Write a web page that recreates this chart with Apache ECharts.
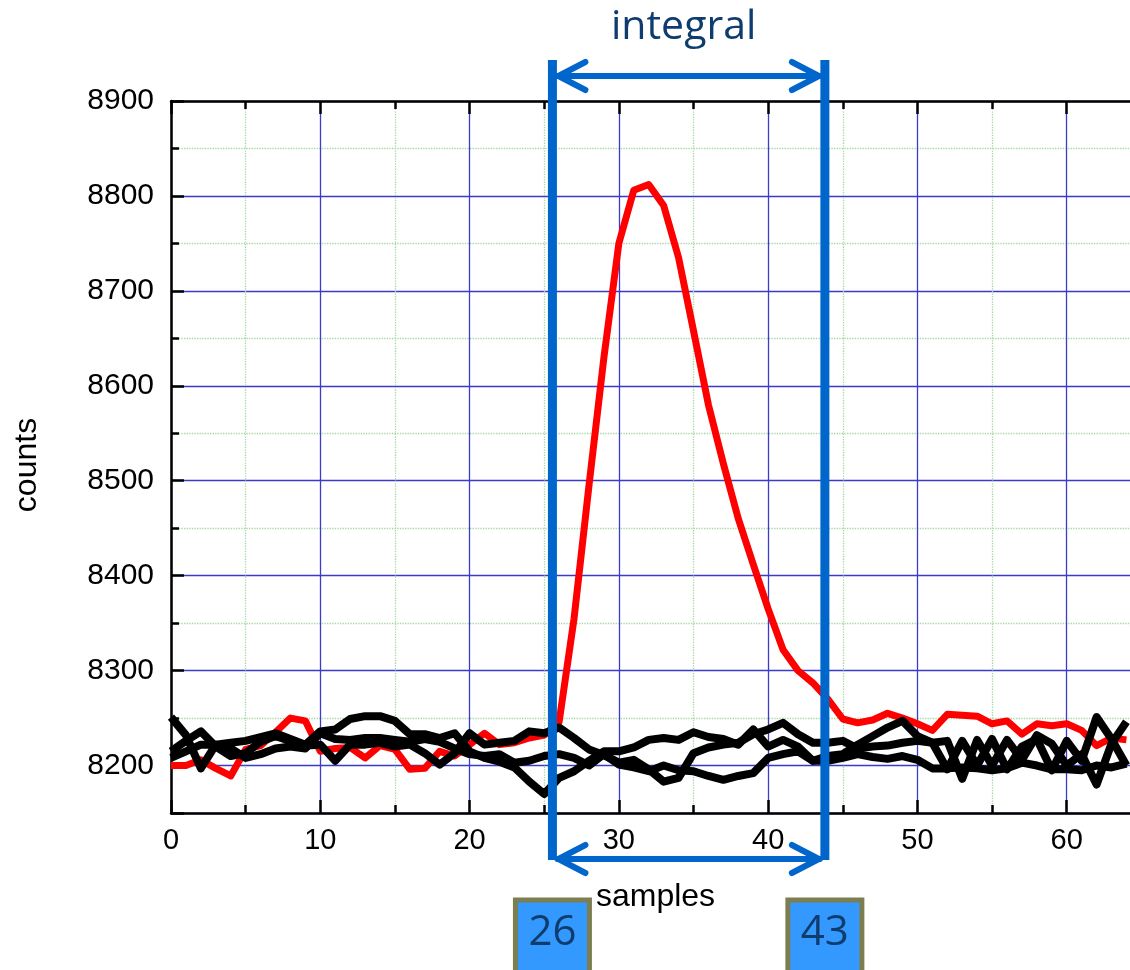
<!DOCTYPE html>
<html>
<head>
<meta charset="utf-8">
<script src="https://cdn.jsdelivr.net/npm/echarts@6/dist/echarts.min.js"></script>
<style>
html,body{margin:0;padding:0;background:#ffffff;}
#chart{width:1130px;height:970px;}
</style>
</head>
<body>
<div id="chart"></div>
<script>
// ---- data ----
const sampleIdx = [0,1,2,3,4,5,6,7,8,9,10,11,12,13,14,15,16,17,18,19,20,21,22,23,24,25,26,27,28,29,30,31,32,33,34,35,36,37,38,39,40,41,42,43,44,45,46,47,48,49,50,51,52,53,54,55,56,57,58,59,60,61,62,63,64];
const redCounts = [8200,8200,8206,8197,8189,8217,8221,8235,8250,8247,
                   8215,8218,8219,8208,8221,8217,8196,8197,8215,8210,
                   8222,8234,8222,8224,8229,8232,8246,8355,8495,8630,
                   8750,8806,8812,8790,8735,8658,8580,8518,8460,8412,
                   8365,8322,8300,8287,8270,8249,8245,8248,8255,8250,
                   8244,8237,8254,8253,8252,8244,8247,8233,8244,8242,
                   8244,8237,8221,8229,8227];
const blackCountsA = [8251,8232,8197,8222,8224,8226,8230,8234,8228,8222,
                      8236,8238,8249,8252,8252,8247,8233,8233,8229,8234,
                      8215,8208,8204,8198,8183,8170,8187,8194,8205,8215,
                      8215,8219,8227,8229,8227,8235,8230,8228,8222,8238,
                      8220,8227,8220,8205,8210,8212,8222,8231,8240,8247,
                      8231,8224,8196,8226,8200,8228,8196,8220,8228,8195,
                      8226,8205,8251,8228,8200];
const blackCountsB = [8215,8226,8236,8220,8210,8213,8225,8231,8226,8221,
                      8222,8205,8222,8222,8224,8220,8222,8213,8201,8213,
                      8234,8222,8224,8226,8236,8234,8240,8229,8217,8211,
                      8203,8206,8196,8183,8187,8213,8219,8222,8224,8233,
                      8238,8245,8233,8224,8224,8226,8218,8220,8221,8224,
                      8226,8224,8226,8186,8227,8200,8227,8206,8232,8223,
                      8200,8212,8180,8223,8246];
const blackCountsC = [8208,8215,8222,8222,8218,8208,8212,8218,8220,8218,
                      8234,8228,8227,8229,8229,8227,8225,8228,8225,8218,
                      8212,8210,8212,8203,8205,8210,8212,8208,8200,8212,
                      8201,8198,8194,8200,8195,8194,8189,8185,8189,8192,
                      8208,8212,8215,8205,8205,8208,8212,8209,8207,8210,
                      8206,8197,8197,8198,8197,8195,8197,8203,8200,8196,
                      8196,8195,8200,8198,8202];
const xTickLabels = [0,10,20,30,40,50,60];
const yTickLabels = [8200,8300,8400,8500,8600,8700,8800,8900];
const windowLabels = ['26','43'];
const windowEdges = [25.55, 43.8];   // where the blue bracket bars sit on the samples axis
const titleText = 'integral';

// ---- styles ----
const AXIS_BLACK = '#000000';
const GRID_BLUE = '#3a3acb';
const GRID_GREEN = '#a3d8a3';
const BRACKET_BLUE = '#0066cc';
const NAVY = '#0f3c6e';
const BOX_FILL = '#3399ff';
const BOX_EDGE = '#7d7d52';

const axisLineStyle = {color: AXIS_BLACK, width: 2.5};
const chart = echarts.init(document.getElementById('chart'), null, {renderer: 'canvas'});

const pairs = arr => sampleIdx.map((x, i) => [x, arr[i]]);
const blackLine = (name, arr) => ({
  name, type: 'line', xAxisIndex: 0, yAxisIndex: 0, data: pairs(arr),
  symbol: 'none', showSymbol: false, z: 3,
  lineStyle: {color: '#000000', width: 8, join: 'round'}
});

chart.setOption({
  animation: false,
  backgroundColor: '#ffffff',
  grid: {left: 171, top: 101, width: 1045, height: 712, containLabel: false, outerBoundsMode: 'none'},
  xAxis: [
    {
      type: 'value', position: 'bottom', min: 0, max: 70, interval: 10,
      axisLine: {show: true, onZero: false, lineStyle: axisLineStyle},
      axisTick: {show: true, inside: true, length: 13, lineStyle: axisLineStyle},
      minorTick: {show: true, splitNumber: 2, length: 8, lineStyle: axisLineStyle},
      splitLine: {show: true, lineStyle: {color: GRID_BLUE, width: 1.3}},
      minorSplitLine: {show: true, lineStyle: {color: GRID_GREEN, width: 1.3, type: 'dotted'}},
      axisLabel: {show: true, margin: 13, fontSize: 29, color: '#000', fontFamily: 'Liberation Sans',
                  formatter: v => xTickLabels.includes(v) ? String(v) : ''},
      name: 'samples', nameLocation: 'middle', nameGap: 68,
      nameTextStyle: {fontSize: 32, color: '#000', fontFamily: 'Liberation Sans', padding: [0, 76, 0, 0]}
    },
    {
      type: 'value', position: 'top', min: 0, max: 70, interval: 10,
      axisLine: {show: true, onZero: false, lineStyle: axisLineStyle},
      axisTick: {show: true, inside: true, length: 13, lineStyle: axisLineStyle},
      minorTick: {show: true, splitNumber: 2, length: 8, lineStyle: axisLineStyle},
      splitLine: {show: false}, minorSplitLine: {show: false},
      axisLabel: {show: false}
    }
  ],
  yAxis: [
    {
      type: 'value', position: 'left', min: 8150, max: 8900, splitNumber: 7,
      axisLine: {show: true, onZero: false, lineStyle: axisLineStyle},
      axisTick: {show: true, inside: true, length: 13, lineStyle: axisLineStyle},
      splitLine: {show: true, lineStyle: {color: GRID_BLUE, width: 1.3}},
      axisLabel: {show: true, margin: 17, fontSize: 30, color: '#000', fontFamily: 'Liberation Sans',
                  formatter: v => yTickLabels.includes(v) ? String(v) : ''},
      name: 'counts', nameLocation: 'middle', nameGap: 128, nameRotate: 90,
      nameTextStyle: {fontSize: 32, color: '#000', fontFamily: 'Liberation Sans', padding: [0, 16, 0, 0]}
    },
    {
      type: 'value', position: 'left', min: 8150, max: 8900, interval: 100,
      axisLine: {show: false},
      axisTick: {show: true, inside: true, length: 8, lineStyle: axisLineStyle},
      splitLine: {show: true, lineStyle: {color: GRID_GREEN, width: 1.3, type: 'dotted'}},
      axisLabel: {show: false}
    }
  ],
  series: [
    {
      name: 'signal', type: 'line', xAxisIndex: 0, yAxisIndex: 0, data: pairs(redCounts),
      symbol: 'none', showSymbol: false, z: 2,
      lineStyle: {color: '#ff0000', width: 7, join: 'round'}
    },
    blackLine('baseline A', blackCountsA),
    blackLine('baseline B', blackCountsB),
    blackLine('baseline C', blackCountsC)
  ]
});

// ---- integration-window bracket, placed through the axis scale ----
const xL = chart.convertToPixel({xAxisIndex: 0}, windowEdges[0]);
const xR = chart.convertToPixel({xAxisIndex: 0}, windowEdges[1]);
const barTop = 60, barBottom = 860, arrowTopY = 76, arrowBotY = 859;
const headW = 28, headH = 14;
const strokeArrow = {stroke: BRACKET_BLUE, lineWidth: 6, lineCap: 'round', lineJoin: 'round', fill: null};

function arrow(y) {
  return [
    {type: 'line', shape: {x1: xL + 5, y1: y, x2: xR - 5, y2: y}, style: strokeArrow, z: 100},
    {type: 'polyline', shape: {points: [[xL + 5 + headW, y - headH], [xL + 6, y], [xL + 5 + headW, y + headH]]}, style: strokeArrow, z: 100},
    {type: 'polyline', shape: {points: [[xR - 5 - headW, y - headH], [xR - 6, y], [xR - 5 - headW, y + headH]]}, style: strokeArrow, z: 100}
  ];
}
function box(cx, label) {
  return [
    {type: 'rect', shape: {x: cx - 37, y: 900, width: 74, height: 74},
     style: {fill: BOX_FILL, stroke: BOX_EDGE, lineWidth: 5}, z: 100},
    {type: 'text', x: cx, y: 933,
     style: {text: label, fill: NAVY, font: '42px "Open Sans"', textAlign: 'center', textVerticalAlign: 'middle'}, z: 101}
  ];
}

chart.setOption({
  graphic: [
    {type: 'text', x: (xL + xR) / 2 - 5, y: 27,
     style: {text: titleText, fill: NAVY, font: '41px "Open Sans"', textAlign: 'center', textVerticalAlign: 'middle'}, z: 100},
    {type: 'line', shape: {x1: xL, y1: barTop, x2: xL, y2: barBottom}, style: {stroke: BRACKET_BLUE, lineWidth: 9}, z: 100},
    {type: 'line', shape: {x1: xR, y1: barTop, x2: xR, y2: barBottom}, style: {stroke: BRACKET_BLUE, lineWidth: 9}, z: 100},
    ...arrow(arrowTopY),
    ...arrow(arrowBotY),
    ...box(xL, windowLabels[0]),
    ...box(xR, windowLabels[1])
  ]
});
</script>
</body>
</html>
